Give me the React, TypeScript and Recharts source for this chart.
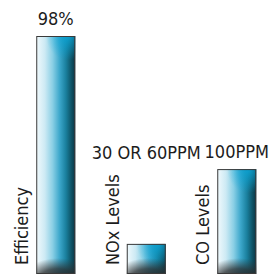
import { BarChart, Bar, XAxis, YAxis, LabelList } from 'recharts';

// category names, the figure printed above each bar, and bar heights
const categories = ['Efficiency', 'NOx Levels', 'CO Levels'];
const topLabels = ['98%', '30 OR 60PPM', '100PPM'];
const barValues = [98, 12.4, 43.2];

const data = categories.map((name, i) => ({ name, top: topLabels[i], value: barValues[i] }));

const FONT = '"DejaVu Sans Condensed", "DejaVu Sans", sans-serif';
const TEXT = '#1c1c1c';

const GlossBar = (props: any) => {
  const { x, y, width, height, index } = props;
  if (!height || height <= 0) return null;
  const bottom = y + height;
  const id = `gb-${index}`;
  return (
    <g>
      <defs>
        <linearGradient id={`${id}-face`} x1="0" y1="0" x2="1" y2="0">
          <stop offset="0%" stopColor="#f2fafd" />
          <stop offset="22%" stopColor="#cdeaf4" />
          <stop offset="42%" stopColor="#8acfe5" />
          <stop offset="60%" stopColor="#3ca7cb" />
          <stop offset="76%" stopColor="#1a809e" />
          <stop offset="90%" stopColor="#0e5366" />
          <stop offset="100%" stopColor="#0a3544" />
        </linearGradient>
        <radialGradient id={`${id}-glow`}>
          <stop offset="0%" stopColor="#0aa6d8" stopOpacity={0.85} />
          <stop offset="100%" stopColor="#0aa6d8" stopOpacity={0} />
        </radialGradient>
        <radialGradient id={`${id}-shade`}>
          <stop offset="0%" stopColor="#1a1a1a" stopOpacity={0.95} />
          <stop offset="55%" stopColor="#2a2a2a" stopOpacity={0.75} />
          <stop offset="100%" stopColor="#333333" stopOpacity={0} />
        </radialGradient>
        <clipPath id={`${id}-clip`}>
          <rect x={x} y={y} width={width} height={height} />
        </clipPath>
      </defs>
      <rect x={x} y={y} width={width} height={height} fill={`url(#${id}-face)`} />
      <g clipPath={`url(#${id}-clip)`}>
        <ellipse cx={x + width * 0.8} cy={y} rx={width * 0.55} ry={24} fill={`url(#${id}-glow)`} />
        <ellipse cx={x + width * 0.55} cy={bottom + 8} rx={width * 0.95} ry={24} fill={`url(#${id}-shade)`} />
      </g>
      <rect x={x + 0.5} y={y + 0.5} width={width - 1} height={height - 1} fill="none" stroke="#3a3a3a" strokeWidth={1} />
    </g>
  );
};

const TopLabel = (props: any) => {
  const { x, y, width, value } = props;
  return (
    <text x={x + width / 2} y={Math.min(y - 11, 159)} textAnchor="middle" fill={TEXT} fontFamily={FONT} fontSize={18} style={{ fontStretch: 'condensed' }}>
      {value}
    </text>
  );
};

const SideLabel = (props: any) => {
  const { x, y, height, value } = props;
  const bx = x - 8;
  const by = y + height - 9;
  return (
    <text x={bx} y={by} transform={`rotate(-90 ${bx} ${by})`} textAnchor="start" fill={TEXT} fontFamily={FONT} fontSize={18} style={{ fontStretch: 'condensed' }}>
      {value}
    </text>
  );
};

export default function App() {
  return (
    <div style={{ position: 'absolute', left: 0, top: 0, width: 269, height: 274, overflow: 'hidden', background: '#fff' }}>
      <BarChart width={282} height={274} data={data} margin={{ top: 36, right: 0.25, bottom: 0, left: 10.25 }}>
        <XAxis dataKey="name" hide />
        <YAxis hide domain={[0, 'dataMax']} />
        <Bar dataKey="value" barSize={39} shape={<GlossBar />} isAnimationActive={false}>
          <LabelList dataKey="top" content={<TopLabel />} />
          <LabelList dataKey="name" content={<SideLabel />} />
        </Bar>
      </BarChart>
    </div>
  );
}
